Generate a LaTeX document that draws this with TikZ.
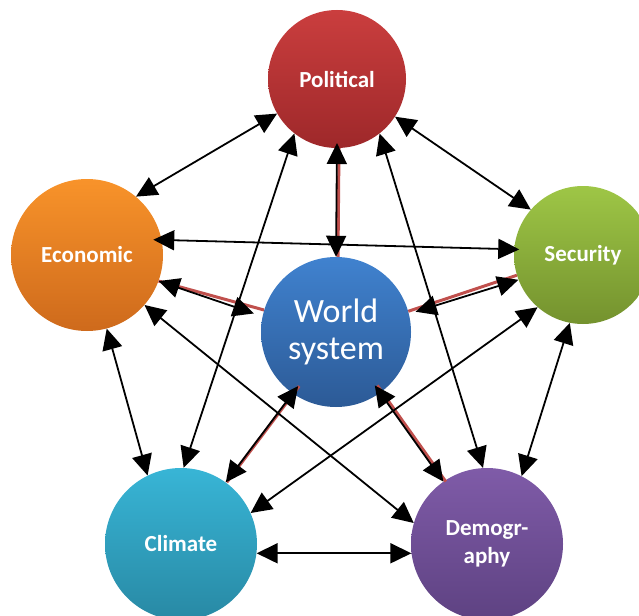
\documentclass[tikz,border=0pt]{standalone}
\usepackage{fontspec}
\setmainfont{Carlito}
\usetikzlibrary{arrows.meta,calc}
\definecolor{polT}{RGB}{202,62,62}
\definecolor{polB}{RGB}{158,40,42}
\definecolor{ecoT}{RGB}{248,147,42}
\definecolor{ecoB}{RGB}{206,106,28}
\definecolor{secT}{RGB}{158,198,70}
\definecolor{secB}{RGB}{116,146,46}
\definecolor{worT}{RGB}{64,130,207}
\definecolor{worB}{RGB}{44,90,150}
\definecolor{cliT}{RGB}{56,181,214}
\definecolor{cliB}{RGB}{40,137,164}
\definecolor{demT}{RGB}{127,91,168}
\definecolor{demB}{RGB}{94,66,130}
\definecolor{linkred}{RGB}{192,80,77}
\begin{document}
\begin{tikzpicture}[x=1pt,y=-1pt,
  ball/.style={circle, inner sep=0pt, text=white, align=center,
    font=\bfseries\fontsize{23}{28}\selectfont},
  link/.style={{Triangle[length=21pt,width=20pt]}-{Triangle[length=21pt,width=20pt]},
    line width=1.8pt, black},
  redlink/.style={line width=3pt, linkred}]
\useasboundingbox (0,0) rectangle (639,615);
\clip (0,0) rectangle (639,615);
\node[ball, minimum size=138pt, top color=polT, bottom color=polB] (pol) at (337,79) {Political};
\node[ball, minimum size=152pt, top color=ecoT, bottom color=ecoB] (eco) at (87,255) {Economic};
\node[ball, minimum size=138pt, top color=secT, bottom color=secB] (sec) at (583,255) {Security};
\node[ball, minimum size=150pt, top color=worT, bottom color=worB,
  font=\fontsize{34}{37}\selectfont] (wor) at (336,332) {World\\system};
\node[ball, minimum size=152pt, top color=cliT, bottom color=cliB] (cli) at (181,544) {Climate};
\node[ball, minimum size=152pt, top color=demT, bottom color=demB] (dem) at (487,544) {Demogr-\\aphy};
% red links from world system
\draw[redlink, transform canvas={xshift=2pt}] (pol.270) -- (wor.90);
\draw[redlink] (eco.340) -- (wor.163);
\draw[redlink] (sec.197) -- (wor.16.6);
\draw[redlink, transform canvas={xshift=1pt}] (cli.54) -- ($(wor)!66pt!(wor.235)$);
\draw[redlink, transform canvas={xshift=2.5pt}] (dem.125) -- ($(wor)!66pt!(wor.306)$);
% black links
\draw[link] (pol.210.8) -- (eco.50);
\draw[link] (pol.327) -- (sec.139);
\draw[link] (pol.232) -- (cli.88);
\draw[link] (pol.308) -- (dem.93.5);
\draw[link] ($(eco)!68pt!(eco.13)$) -- ($(sec)!64pt!(sec.175)$);
\draw[link] (eco.285) -- (cli.116);
\draw[link] (eco.319) -- (dem.164);
\draw[link] (sec.229) -- (cli.24);
\draw[link] (sec.259) -- (dem.63);
\draw[link] (cli.353) -- (dem.187);
\draw[link] ($(pol)!64pt!(pol.270)$) -- (wor.90);
\draw[link, shorten >=9pt] (eco.340) -- (wor.168);
\draw[link, shorten >=7pt] (sec.201) -- (wor.14);
\draw[link] (cli.54) -- ($(wor)!66pt!(wor.235)$);
\draw[link] (dem.125) -- ($(wor)!66pt!(wor.306)$);
\end{tikzpicture}
\end{document}
